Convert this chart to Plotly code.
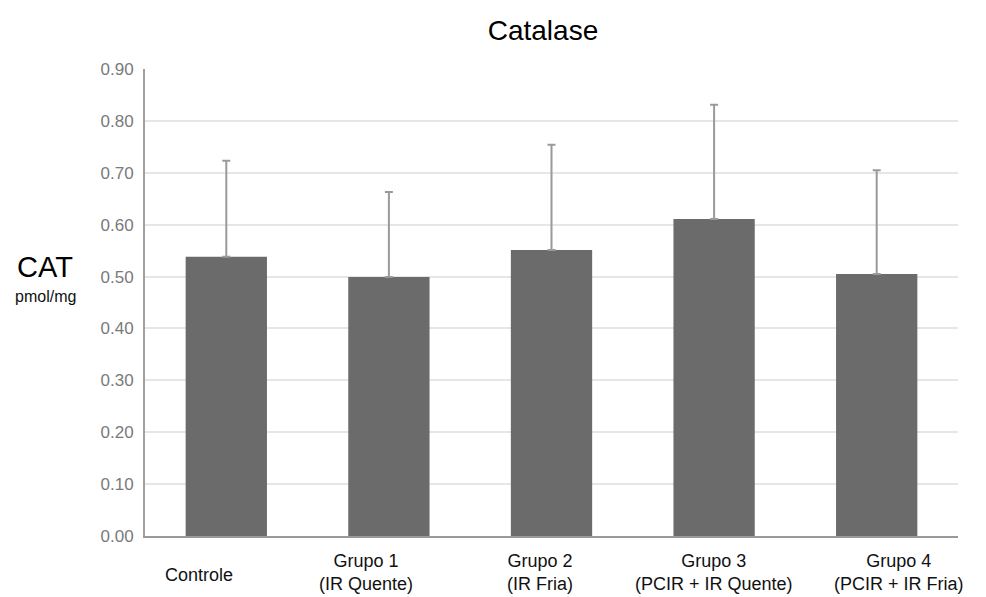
import plotly.graph_objects as go

categories = ["Controle", "Grupo 1", "Grupo 2", "Grupo 3", "Grupo 4"]
tick_labels = ["Controle", "Grupo 1<br>(IR Quente)", "Grupo 2<br>(IR Fria)",
               "Grupo 3<br>(PCIR + IR Quente)", "Grupo 4<br>(PCIR + IR Fria)"]
means = [0.538, 0.499, 0.551, 0.611, 0.505]
errors = [0.185, 0.164, 0.203, 0.220, 0.200]
y_ticks = [0.0, 0.1, 0.2, 0.3, 0.4, 0.5, 0.6, 0.7, 0.8, 0.9]

# layout-only horizontal nudges of the category labels (pixels)
label_shift = [-27, -23, -12, 0, 22]

FONT = "Liberation Sans, Arial, sans-serif"

fig = go.Figure()
fig.add_trace(go.Bar(
    x=categories, y=means, width=0.5,
    marker=dict(color="#6b6b6b", line=dict(width=0)),
    error_y=dict(type="data", array=errors, arrayminus=[0] * len(errors),
                 symmetric=False, color="#9a9a9a", thickness=2, width=4),
    showlegend=False, hoverinfo="skip",
))

annotations = []
for i, c in enumerate(categories):
    single = "<br>" not in tick_labels[i]
    annotations.append(dict(
        x=c, xref="x", y=(-0.0835 if single else -0.0782), yref="paper",
        yanchor="middle", xanchor="center", text=tick_labels[i], showarrow=False,
        xshift=label_shift[i], align="center",
        font=dict(family=FONT, size=18, color="#111")))

annotations.append(dict(x=-0.123, xref="paper", y=0.576, yref="paper", text="CAT",
                        showarrow=False, yanchor="middle", xanchor="center",
                        font=dict(family=FONT, size=29, color="#000")))
annotations.append(dict(x=-0.123, xref="paper", y=0.512, yref="paper", text="pmol/mg",
                        showarrow=False, yanchor="middle", xanchor="center",
                        font=dict(family=FONT, size=16, color="#111")))

fig.update_layout(
    width=978, height=589,
    margin=dict(l=137, r=28, t=61, b=61),
    paper_bgcolor="white", plot_bgcolor="white",
    title=dict(text="Catalase", x=0.547, xanchor="center", xref="container",
               y=0.9626, yanchor="middle",
               font=dict(family=FONT, size=28, color="#000")),
    xaxis=dict(showticklabels=False, ticks="", showgrid=False, showline=True,
               linecolor="#999", linewidth=2, range=[-0.5, 4.5], fixedrange=True),
    yaxis=dict(range=[0, 0.9], tickvals=y_ticks, tickformat=".2f",
               showgrid=True, gridcolor="#e6e6e6", gridwidth=2,
               showline=True, linecolor="#a0a0a0", linewidth=2,
               ticks="", ticklabelstandoff=6, zeroline=False, fixedrange=True,
               tickfont=dict(family=FONT, size=17, color="#7a7a7a")),
    annotations=annotations,
)

fig.write_html("out.html")
